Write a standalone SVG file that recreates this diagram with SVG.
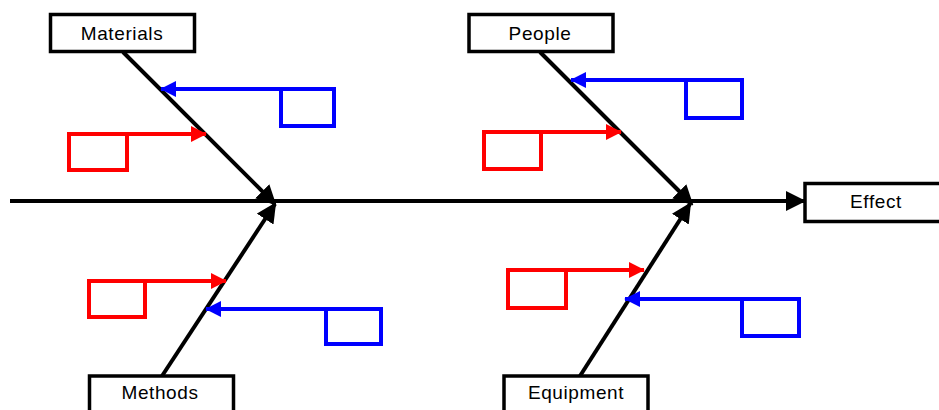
<svg xmlns="http://www.w3.org/2000/svg" width="939" height="410" viewBox="0 0 939 410">
<defs>
<style>
.box{fill:#fff;stroke:#000;stroke-width:3.5}
.lbl{font-family:"Liberation Sans",Arial,sans-serif;font-size:19px;letter-spacing:0.6px;fill:#000;text-anchor:middle}
.bone{stroke:#000;stroke-width:4;fill:none}
.red{stroke:#ff0000;stroke-width:4;fill:none}
.blue{stroke:#0000ff;stroke-width:4;fill:none}
</style>
<marker id="ak" markerWidth="5" markerHeight="5" refX="4.5" refY="2.5" orient="auto" markerUnits="strokeWidth"><path d="M0,0 L5,2.5 L0,5 Z" fill="#000"/></marker>
<marker id="ar" markerWidth="4" markerHeight="4" refX="3.8" refY="2" orient="auto" markerUnits="strokeWidth"><path d="M0,0 L4,2 L0,4 Z" fill="#ff0000"/></marker>
<marker id="ab" markerWidth="4" markerHeight="4" refX="3.8" refY="2" orient="auto" markerUnits="strokeWidth"><path d="M0,0 L4,2 L0,4 Z" fill="#0000ff"/></marker>
</defs>
<rect width="939" height="410" fill="#fff"/>
<g id="connectors">
<line class="bone" x1="10" y1="201" x2="804" y2="201" marker-end="url(#ak)"/>
<line class="bone" x1="123" y1="52" x2="275" y2="204" marker-end="url(#ak)"/>
<line class="bone" x1="540" y1="52" x2="692" y2="204" marker-end="url(#ak)"/>
<line class="bone" x1="162" y1="376" x2="275" y2="204" marker-end="url(#ak)"/>
<line class="bone" x1="580" y1="376" x2="690" y2="204" marker-end="url(#ak)"/>
<line class="blue" x1="335" y1="89" x2="161" y2="89" marker-end="url(#ab)"/>
<line class="red" x1="127" y1="134" x2="206" y2="134" marker-end="url(#ar)"/>
<line class="blue" x1="743" y1="80" x2="571" y2="80" marker-end="url(#ab)"/>
<line class="red" x1="541" y1="132" x2="621" y2="132" marker-end="url(#ar)"/>
<line class="red" x1="145" y1="281" x2="226" y2="281" marker-end="url(#ar)"/>
<line class="blue" x1="381" y1="309" x2="206" y2="309" marker-end="url(#ab)"/>
<line class="red" x1="566" y1="270" x2="644" y2="270" marker-end="url(#ar)"/>
<line class="blue" x1="799" y1="299" x2="625" y2="299" marker-end="url(#ab)"/>
</g>
<g id="materials"><rect class="box" x="50.5" y="14.5" width="144" height="37"/><text class="lbl" x="122" y="40">Materials</text></g>
<g id="people"><rect class="box" x="469" y="14.5" width="144" height="37"/><text class="lbl" x="540" y="40">People</text></g>
<g id="methods"><rect class="box" x="89.5" y="376" width="144" height="40"/><text class="lbl" x="160" y="399">Methods</text></g>
<g id="equipment"><rect class="box" x="504" y="376" width="144" height="40"/><text class="lbl" x="576" y="399">Equipment</text></g>
<g id="effect"><rect class="box" x="805" y="183.5" width="140" height="38"/><text class="lbl" x="876" y="208">Effect</text></g>
<g id="m-blue-box"><rect class="blue" x="281" y="89" width="53" height="37"/></g>
<g id="m-red-box"><rect class="red" x="69" y="134" width="58" height="36"/></g>
<g id="p-blue-box"><rect class="blue" x="686" y="80" width="56" height="38"/></g>
<g id="p-red-box"><rect class="red" x="484" y="132" width="57" height="37"/></g>
<g id="me-red-box"><rect class="red" x="89" y="281" width="56" height="36"/></g>
<g id="me-blue-box"><rect class="blue" x="326" y="309" width="55" height="35"/></g>
<g id="e-red-box"><rect class="red" x="508" y="270" width="58" height="38"/></g>
<g id="e-blue-box"><rect class="blue" x="742" y="299" width="57" height="37"/></g>
</svg>
